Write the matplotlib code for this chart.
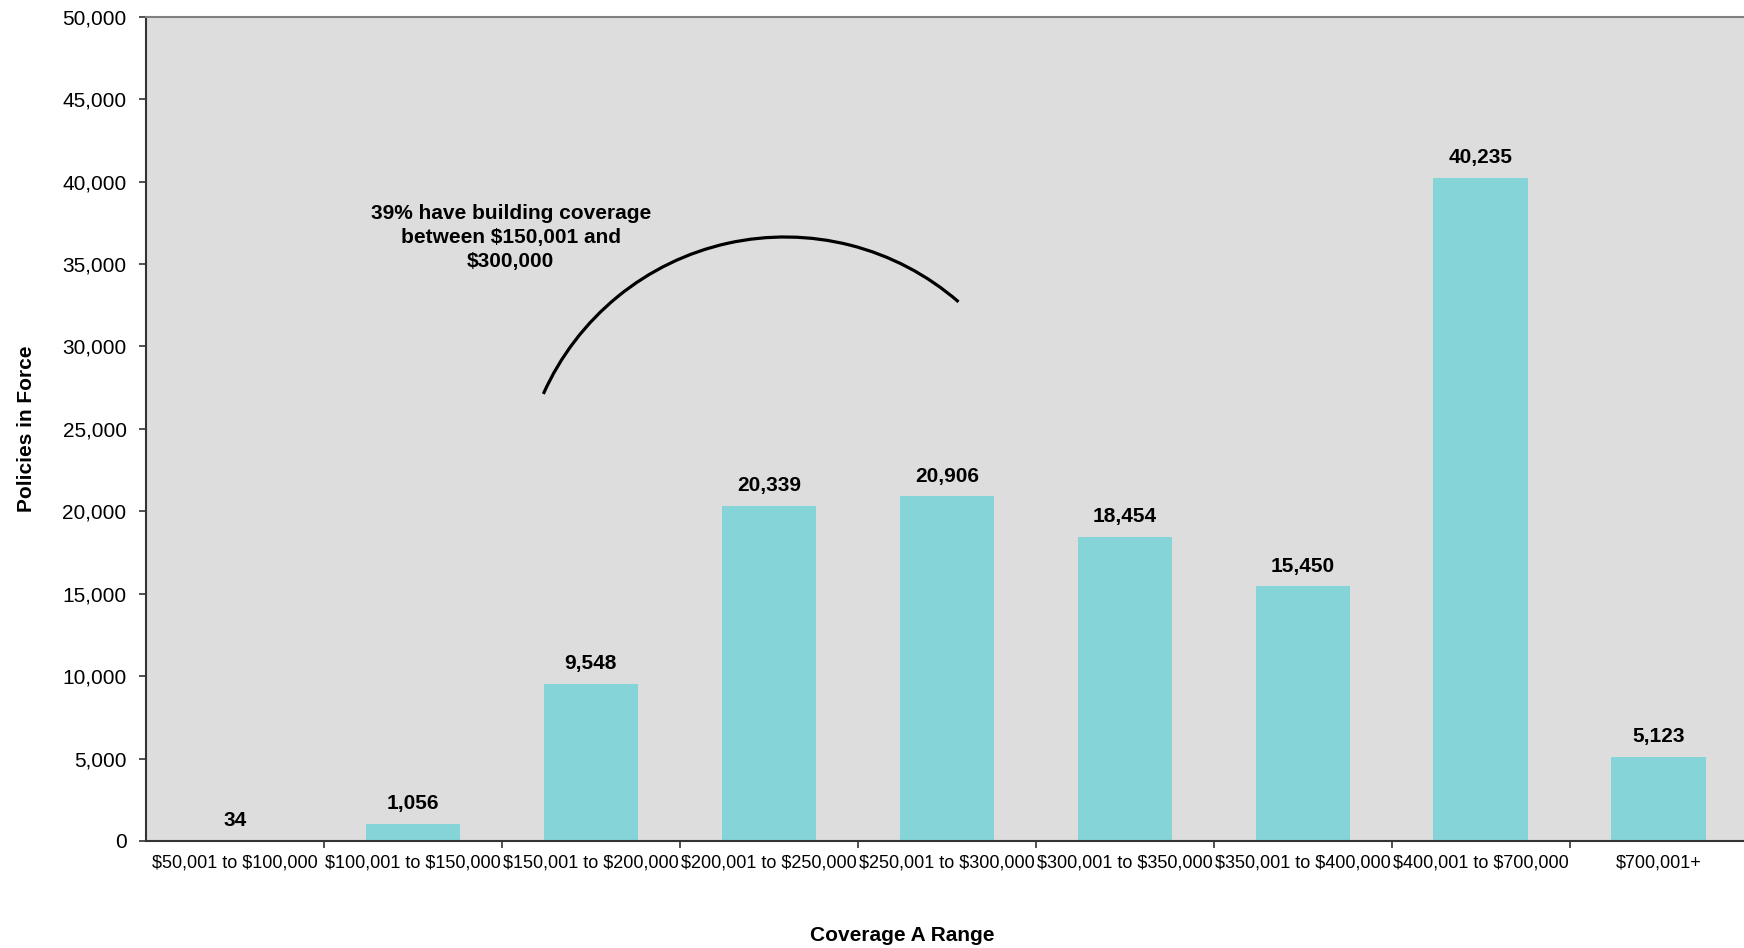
import matplotlib
matplotlib.use("Agg")
import matplotlib.pyplot as plt
from matplotlib.patches import Arc
from matplotlib.ticker import FuncFormatter, FixedLocator

plt.rcParams['font.family'] = ['Liberation Sans', 'DejaVu Sans']

# data
ranges = ['$50,001 to $100,000', '$100,001 to $150,000', '$150,001 to $200,000',
          '$200,001 to $250,000', '$250,001 to $300,000', '$300,001 to $350,000',
          '$350,001 to $400,000', '$400,001 to $700,000', '$700,001+']
policies = [34, 1056, 9548, 20339, 20906, 18454, 15450, 40235, 5123]
y_ticks = [0, 5000, 10000, 15000, 20000, 25000, 30000, 35000, 40000, 45000, 50000]
note = '39% have building coverage\nbetween $150,001 and\n$300,000'

fig = plt.figure(figsize=(17.44, 9.48), dpi=100)
ax = fig.add_axes([0.0837, 0.1129, 0.9163, 0.8695])
ax.set_facecolor('#dddddd')

x = list(range(len(ranges)))
bars = ax.bar(x, policies, width=0.53, color='#85d4d8', zorder=2)

# value labels above bars
for b, v in zip(bars, policies):
    ax.annotate(f'{v:,}', (b.get_x() + b.get_width() / 2, v),
                xytext=(0, 10.5), textcoords='offset points',
                ha='center', va='baseline', fontsize=15, fontweight='bold')

ax.set_xlim(-0.5, 8.48)
ax.set_ylim(0, 50000)
ax.set_yticks(y_ticks)
ax.yaxis.set_major_formatter(FuncFormatter(lambda v, p: f'{int(v):,}'))
ax.tick_params(axis='y', labelsize=15, length=5, width=1.2, color='#333333', pad=9)

# labels at bar centres, ticks at the category boundaries
# escape the dollar signs so they are not read as mathtext
ax.set_xticks(x)
ax.set_xticklabels([r.replace('$', r'\$') for r in ranges])
ax.xaxis.set_minor_locator(FixedLocator([i + 0.5 for i in range(8)]))
ax.tick_params(axis='x', which='major', length=0, labelsize=13, pad=10)
ax.tick_params(axis='x', which='minor', length=5, width=1.2, color='#333333')

for s in ['left', 'bottom']:
    ax.spines[s].set_color('#333333')
    ax.spines[s].set_linewidth(1.5)
ax.spines['top'].set_color('#808080')
ax.spines['top'].set_linewidth(1.5)
ax.spines['right'].set_visible(False)

ax.set_ylabel('Policies in Force', fontsize=15, fontweight='bold', labelpad=19)
ax.set_xlabel('Coverage A Range', fontsize=15, fontweight='bold')
ax.xaxis.set_label_coords(0.473, -0.103)

# annotation text and arc (arc drawn in inches so it stays circular)
ax.text(1.55, 36600, note.replace('$', r'\$'), ha='center', va='center',
        fontsize=15, fontweight='bold', linespacing=1.35)
fig.add_artist(Arc((7.85, 4.465), 5.29, 5.29, theta1=49, theta2=156,
                   transform=fig.dpi_scale_trans, color='black', linewidth=2.3))

fig.savefig('out.png', dpi=100)
